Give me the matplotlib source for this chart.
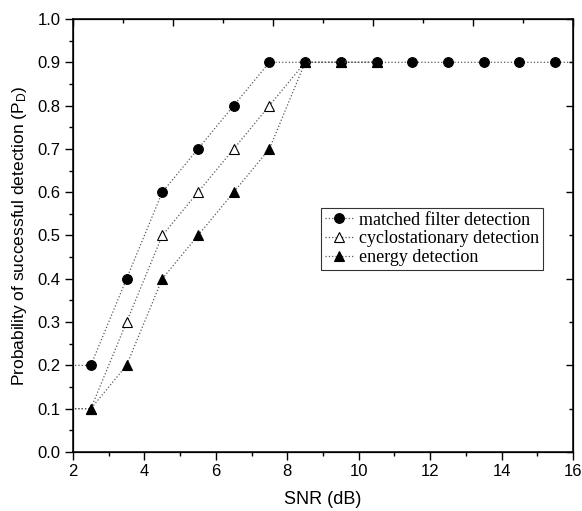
import matplotlib
matplotlib.use('Agg')
import matplotlib.pyplot as plt
from matplotlib.ticker import MultipleLocator, NullFormatter

plt.rcParams['font.family'] = ['Liberation Sans', 'DejaVu Sans']
plt.rcParams['mathtext.default'] = 'regular'

# SNR (dB) values and detection probabilities
snr_matched = [1.5, 2.5, 3.5, 4.5, 5.5, 6.5, 7.5, 8.5, 9.5, 10.5, 11.5, 12.5, 13.5, 14.5, 15.5, 16.5]
pd_matched = [0.2, 0.2, 0.4, 0.6, 0.7, 0.8, 0.9, 0.9, 0.9, 0.9, 0.9, 0.9, 0.9, 0.9, 0.9, 0.9]

snr_cyclo = [1.5, 2.5, 3.5, 4.5, 5.5, 6.5, 7.5, 8.5, 9.5, 10.5]
pd_cyclo = [0.1, 0.1, 0.3, 0.5, 0.6, 0.7, 0.8, 0.9, 0.9, 0.9]

snr_energy = [1.5, 2.5, 3.5, 4.5, 5.5, 6.5, 7.5, 8.5, 9.5, 10.5]
pd_energy = [0.1, 0.1, 0.2, 0.4, 0.5, 0.6, 0.7, 0.9, 0.9, 0.9]

labels = ['matched filter detection', 'cyclostationary detection', 'energy detection']

fig = plt.figure(figsize=(5.82, 5.11), dpi=100)
ax = fig.add_axes([0.1254, 0.1155, 0.8591, 0.8473])

line_kw = dict(color='0.35', linestyle=':', linewidth=0.9, markersize=7,
               markeredgecolor='black', markeredgewidth=0.8)
ax.plot(snr_matched, pd_matched, marker='o', markerfacecolor='black', label=labels[0], **line_kw)
ax.plot(snr_cyclo, pd_cyclo, marker='^', markerfacecolor='white', label=labels[1], **line_kw)
ax.plot(snr_energy, pd_energy, marker='^', markerfacecolor='black', label=labels[2], **line_kw)

ax.set_xlim(2, 16)
ax.set_ylim(0, 1.0)
ax.xaxis.set_major_locator(MultipleLocator(2))
ax.xaxis.set_minor_locator(MultipleLocator(1))
ax.yaxis.set_major_locator(MultipleLocator(0.1))
ax.yaxis.set_minor_locator(MultipleLocator(0.05))
ax.yaxis.set_major_formatter(matplotlib.ticker.FormatStrFormatter('%.1f'))
ax.tick_params(which='major', direction='out', length=6, width=1, labelsize=12, pad=3)
ax.tick_params(which='minor', direction='out', length=3, width=1)
for s in ax.spines.values():
    s.set_linewidth(1.1)

ax.set_xlabel('SNR (dB)', fontsize=13, labelpad=8)
ax.set_ylabel('Probability of successful detection (P$_D$)', fontsize=12.5, labelpad=6)

# mirrored top/right axes with their own 0-1 scale, ticks inward, no labels
axt = ax.twiny()
axt.set_xlim(0, 1)
axt.xaxis.set_major_locator(MultipleLocator(0.2))
axt.xaxis.set_minor_locator(MultipleLocator(0.1))
axt.xaxis.set_major_formatter(NullFormatter())
axt.tick_params(which='major', direction='in', length=5, width=1)
axt.tick_params(which='minor', direction='in', length=3, width=1)

axr = ax.twinx()
axr.set_ylim(0, 1)
axr.yaxis.set_major_locator(MultipleLocator(0.2))
axr.yaxis.set_minor_locator(MultipleLocator(0.1))
axr.yaxis.set_major_formatter(NullFormatter())
axr.tick_params(which='major', direction='in', length=5, width=1)
axr.tick_params(which='minor', direction='in', length=3, width=1)

leg = ax.legend(loc='upper left', bbox_to_anchor=(0.496, 0.5635), frameon=True, fancybox=False,
                edgecolor='black', handlelength=1.6, handletextpad=0.3, borderpad=0.2,
                labelspacing=0.1, borderaxespad=0,
                prop={'family': 'Liberation Serif', 'size': 13})
leg.get_frame().set_linewidth(0.8)
leg.set_zorder(5)

fig.savefig('out.png', dpi=100)
